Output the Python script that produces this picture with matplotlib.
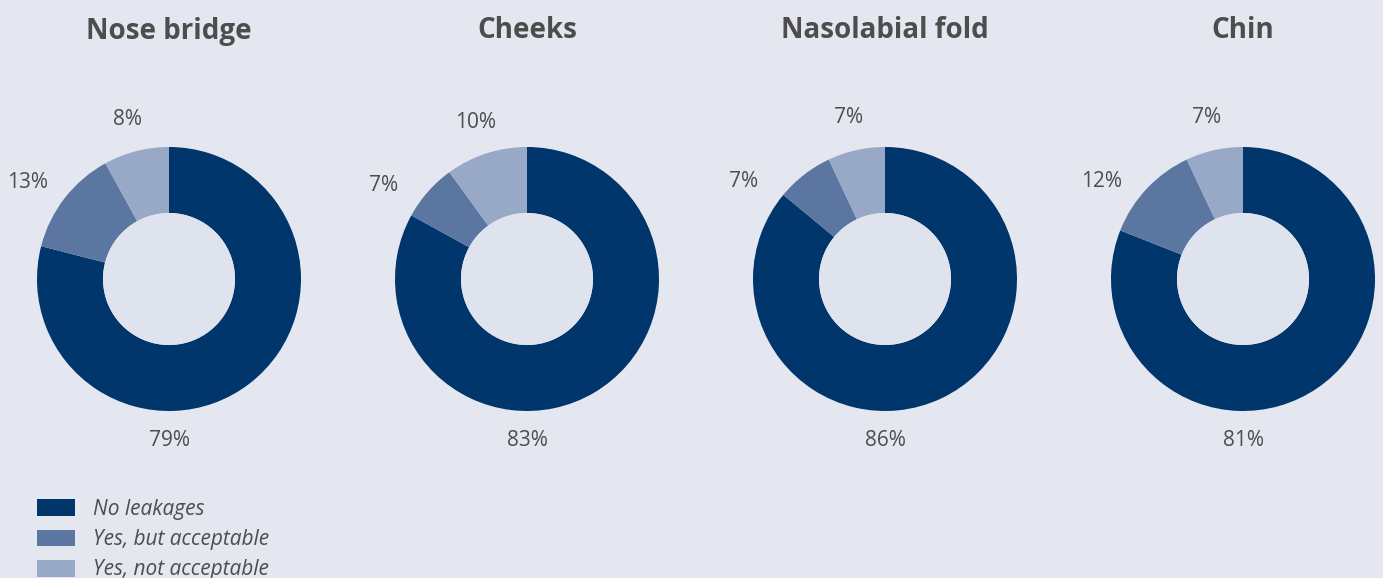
import numpy as np
import matplotlib.pyplot as plt
from matplotlib.patches import Patch, Circle

# Data
regions = ['Nose bridge', 'Cheeks', 'Nasolabial fold', 'Chin']
no_leakages = [79, 83, 86, 81]
yes_acceptable = [13, 7, 7, 12]
yes_not_acceptable = [8, 10, 7, 7]
categories = ['No leakages', 'Yes, but acceptable', 'Yes, not acceptable']
colors = ['#00366b', '#5b76a0', '#98a8c7']

bg = '#e4e7ef'
hole = '#dfe3ed'
text_col = '#4d4d4d'

plt.rcParams['font.family'] = ['Open Sans', 'DejaVu Sans']

W, H = 1383, 578
fig = plt.figure(figsize=(W / 100, H / 100), dpi=100)
fig.patch.set_facecolor(bg)

centers_x = [169, 527, 885, 1243]
center_y = 279
radius_px = 132
lim = 1.45
size_px = 2 * lim * radius_px

for i, name in enumerate(regions):
    vals = [no_leakages[i], yes_acceptable[i], yes_not_acceptable[i]]
    cx = centers_x[i]
    ax = fig.add_axes([(cx - size_px / 2) / W, (H - center_y - size_px / 2) / H,
                       size_px / W, size_px / H])
    ax.set_facecolor('none')
    ax.pie(vals, colors=colors, startangle=90, counterclock=False,
           radius=1, wedgeprops=dict(width=0.5, linewidth=0))
    ax.add_patch(Circle((0, 0), 0.5, facecolor=hole, edgecolor='none', zorder=3))
    ax.set_xlim(-lim, lim)
    ax.set_ylim(-lim, lim)
    ax.set_aspect('equal')
    ax.axis('off')

    # label positions: largest below the ring, the small ones at their mid angle,
    # second one pushed down if it would crowd the third
    total = sum(vals)
    edges = np.deg2rad(90 - np.cumsum([0] + vals) / total * 360)
    mids = (edges[:-1] + edges[1:]) / 2
    r3, r2 = 1.25, 1.3
    x3, y3 = r3 * np.cos(mids[2]), r3 * np.sin(mids[2])
    y2 = min(r2 * np.sin(mids[1]), y3 - 0.48)
    x2 = -np.sqrt(r2 ** 2 - y2 ** 2)
    positions = [(0, -1.22), (x2, y2), (x3, y3)]
    for v, (lx, ly) in zip(vals, positions):
        ax.text(lx, ly, f'{v}%', ha='center', va='center',
                fontsize=15, color=text_col)

    fig.text(cx / W, 1 - 31 / H, name, ha='center', va='center',
             fontsize=20, fontweight='bold', color=text_col)

handles = [Patch(facecolor=c, edgecolor='none') for c in colors]
leg = fig.legend(handles, categories, loc='upper left',
                 bbox_to_anchor=(37 / W, 1 - 499 / H), frameon=False,
                 prop=dict(style='italic', size=15), labelcolor=text_col,
                 handlelength=1.83, handleheight=0.87, labelspacing=0.44,
                 handletextpad=0.87, borderaxespad=0, borderpad=0)

fig.savefig('out.png', dpi=100, facecolor=bg)
